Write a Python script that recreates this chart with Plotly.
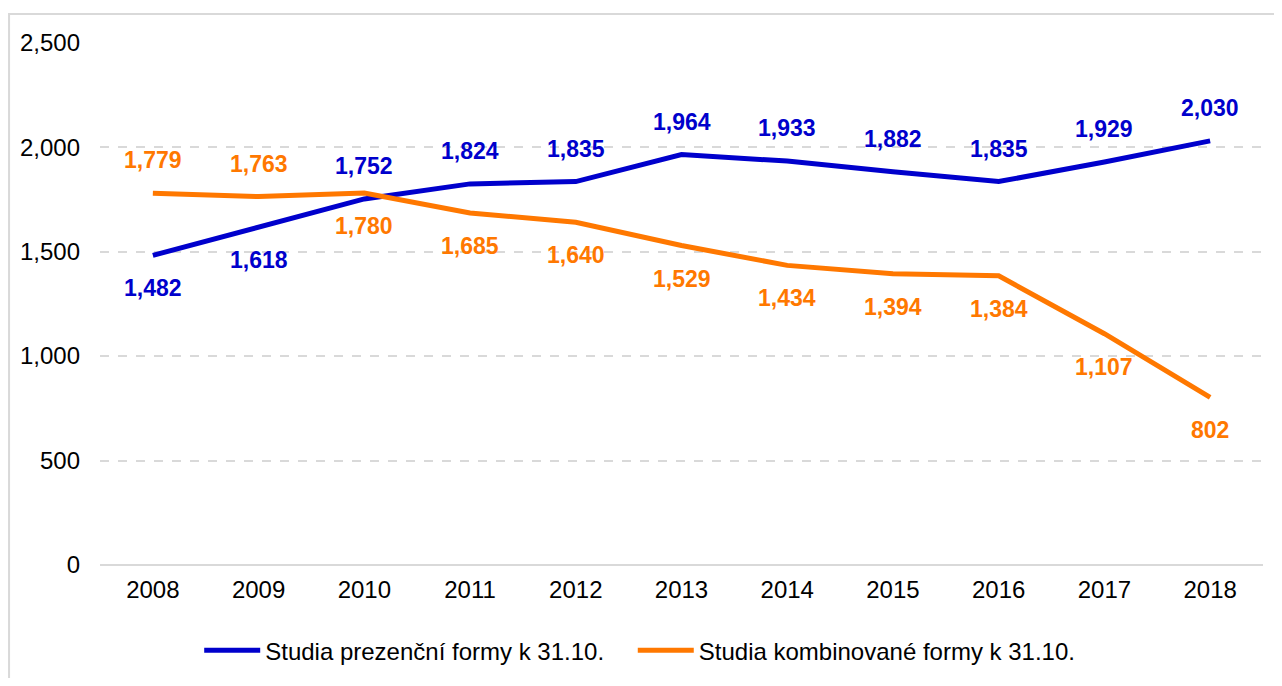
import plotly.graph_objects as go

years = ["2008", "2009", "2010", "2011", "2012", "2013", "2014", "2015", "2016", "2017", "2018"]
prezencni = [1482, 1618, 1752, 1824, 1835, 1964, 1933, 1882, 1835, 1929, 2030]
kombinovane = [1779, 1763, 1780, 1685, 1640, 1529, 1434, 1394, 1384, 1107, 802]
# label placement: +1 above the point, -1 below
prez_pos = [-1, -1, 1, 1, 1, 1, 1, 1, 1, 1, 1]
komb_pos = [1, 1, -1, -1, -1, -1, -1, -1, -1, -1, -1]
y_ticks = [0, 500, 1000, 1500, 2000, 2500]

name_prez = "Studia prezenční formy k 31.10."
name_komb = "Studia kombinované formy k 31.10."
BLUE = "#0000CC"
ORANGE = "#FF7800"
FONT = "Liberation Sans, Arial, sans-serif"

fig = go.Figure()
fig.add_trace(go.Scatter(x=years, y=prezencni, mode="lines", name=name_prez,
                         line=dict(color=BLUE, width=5), hoverinfo="x+y", legend="legend"))
fig.add_trace(go.Scatter(x=years, y=kombinovane, mode="lines", name=name_komb,
                         line=dict(color=ORANGE, width=5), hoverinfo="x+y", legend="legend2"))

annotations = []
for vals, pos, col in ((prezencni, prez_pos, BLUE), (kombinovane, komb_pos, ORANGE)):
    for i, (v, p) in enumerate(zip(vals, pos)):
        annotations.append(dict(x=i, y=v, xref="x", yref="y", text=f"<b>{v:,}</b>",
                                showarrow=False, yshift=33 * p,
                                font=dict(family=FONT, size=23, color=col)))

legend_style = dict(orientation="h", xanchor="left", y=-0.164, yanchor="middle",
                    font=dict(family=FONT, size=24, color="black"), itemwidth=56,
                    bgcolor="rgba(0,0,0,0)")

fig.update_layout(
    width=1266, height=670,
    margin=dict(l=92, r=11, t=34, b=113, autoexpand=False),
    paper_bgcolor="white", plot_bgcolor="white",
    font=dict(family=FONT, size=24, color="black"),
    showlegend=True,
    legend=dict(x=0.0853, **legend_style),
    legend2=dict(x=0.4581, **legend_style),
    annotations=annotations,
    shapes=[dict(type="rect", xref="paper", yref="paper", x0=-0.0782, x1=1.03,
                 y0=-0.3, y1=1.0535, line=dict(color="#D9D9D9", width=2),
                 fillcolor="rgba(0,0,0,0)", layer="below")],
)
fig.update_xaxes(type="category", range=[-0.5, 10.5], showgrid=False, showline=False,
                 ticks="", tickfont=dict(size=24), ticklabelstandoff=8, automargin=False)
fig.update_yaxes(range=[0, 2503], tickvals=y_ticks,
                 tickformat=",d", showgrid=True, gridcolor="#D9D9D9", griddash="dash",
                 gridwidth=1.5, zeroline=True, zerolinecolor="#D9D9D9", zerolinewidth=1.5,
                 showline=False, ticks="", tickfont=dict(size=24), ticklabelstandoff=19,
                 automargin=False)

fig.write_html("out.html")
